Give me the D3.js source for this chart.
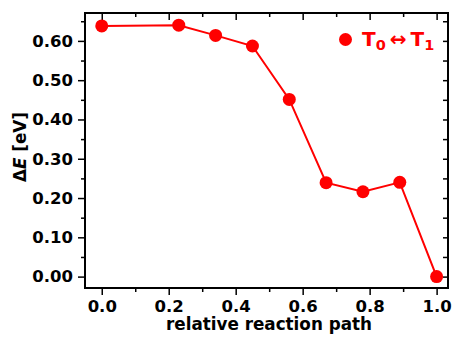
<!DOCTYPE html>
<html>
<head>
<meta charset="utf-8">
<script src="https://cdn.jsdelivr.net/npm/d3@7"></script>
<style>
  body { margin: 0; background: #fff; }
  text { font-family: "DejaVu Sans", sans-serif; font-weight: bold; }
  .axis path, .axis line { stroke: #000; }
</style>
</head>
<body>
<script>
// reaction path data
var pathX = [0.0, 0.23, 0.34, 0.45, 0.56, 0.67, 0.78, 0.89, 1.0];
var deltaE = [0.638, 0.640, 0.614, 0.587, 0.451, 0.239, 0.216, 0.240, 0.0];
var xTicks = [0.0, 0.2, 0.4, 0.6, 0.8, 1.0];
var xMinor = [0.1, 0.3, 0.5, 0.7, 0.9];
var yTicks = [0.0, 0.1, 0.2, 0.3, 0.4, 0.5, 0.6];
var yMinor = [0.05, 0.15, 0.25, 0.35, 0.45, 0.55, 0.65];
var yRight = [0.0, 0.05, 0.1, 0.15, 0.2, 0.25, 0.3, 0.35, 0.4, 0.45, 0.5, 0.55, 0.6, 0.65];

var w = 453, h = 338;
var mLeft = 85, mRight = 448, mTop = 13, mBottom = 288;
var color = "#ff0000";

var svg = d3.select("body").append("svg").attr("width", w).attr("height", h);

var xScale = d3.scaleLinear().domain([-0.05, 1.034]).range([mLeft, mRight]);
var yScale = d3.scaleLinear().domain([-0.029, 0.671]).range([mBottom, mTop]);

function noDomain(g) { g.select(".domain").remove(); }

//bottom axis
svg.append("g").attr("class", "axis")
  .attr("transform", "translate(0," + mBottom + ")")
  .call(d3.axisBottom(xScale).tickValues(xTicks).tickFormat(d3.format(".1f")).tickSize(7).tickPadding(5))
  .call(noDomain);
svg.append("g").attr("class", "axis")
  .attr("transform", "translate(0," + mBottom + ")")
  .call(d3.axisBottom(xScale).tickValues(xMinor).tickFormat("").tickSize(4))
  .call(noDomain);

//top axis, ticks inward
svg.append("g").attr("class", "axis")
  .attr("transform", "translate(0," + mTop + ")")
  .call(d3.axisTop(xScale).tickValues(xTicks).tickFormat("").tickSize(-7))
  .call(noDomain);
svg.append("g").attr("class", "axis")
  .attr("transform", "translate(0," + mTop + ")")
  .call(d3.axisTop(xScale).tickValues(xMinor).tickFormat("").tickSize(-4))
  .call(noDomain);

//left axis
svg.append("g").attr("class", "axis")
  .attr("transform", "translate(" + mLeft + ",0)")
  .call(d3.axisLeft(yScale).tickValues(yTicks).tickFormat(d3.format(".2f")).tickSize(7).tickPadding(5))
  .call(noDomain);
svg.append("g").attr("class", "axis")
  .attr("transform", "translate(" + mLeft + ",0)")
  .call(d3.axisLeft(yScale).tickValues(yMinor).tickFormat("").tickSize(4))
  .call(noDomain);

//right axis, ticks inward
svg.append("g").attr("class", "axis")
  .attr("transform", "translate(" + mRight + ",0)")
  .call(d3.axisRight(yScale).tickValues(yRight).tickFormat("").tickSize(-5))
  .call(noDomain);

svg.selectAll(".axis line").attr("stroke-width", 1.5);
svg.selectAll(".axis text").attr("fill", "#000").style("font-size", "16.5px");

//frame
svg.append("rect")
  .attr("x", mLeft).attr("y", mTop)
  .attr("width", mRight - mLeft).attr("height", mBottom - mTop)
  .attr("fill", "none").attr("stroke", "#000").attr("stroke-width", 2);

//data
var line = d3.line()
  .x(function(d, i) { return xScale(pathX[i]); })
  .y(function(d) { return yScale(d); });

svg.append("path")
  .datum(deltaE)
  .attr("d", line)
  .attr("fill", "none")
  .attr("stroke", color)
  .attr("stroke-width", 2);

svg.selectAll("circle.pt")
  .data(deltaE)
  .enter()
  .append("circle")
  .attr("class", "pt")
  .attr("cx", function(d, i) { return xScale(pathX[i]); })
  .attr("cy", function(d) { return yScale(d); })
  .attr("r", 6.5)
  .attr("fill", color);

//labels
svg.append("text")
  .attr("x", 269)
  .attr("y", 330)
  .attr("text-anchor", "middle")
  .style("font-size", "16.8px")
  .text("relative reaction path");

var yl = svg.append("text")
  .attr("transform", "translate(26,147) rotate(-90)")
  .attr("text-anchor", "middle")
  .style("font-size", "16.8px");
yl.append("tspan").text("Δ");
yl.append("tspan").style("font-style", "italic").text("E");
yl.append("tspan").text(" [eV]");

//legend
svg.append("circle")
  .attr("cx", 345.5).attr("cy", 39.5).attr("r", 6.5).attr("fill", color);
var lg = svg.append("text")
  .attr("x", 362).attr("y", 46)
  .attr("fill", color)
  .style("font-size", "20px");
lg.append("tspan").text("T");
lg.append("tspan").attr("dy", 3.5).style("font-size", "14.5px").text("0");
lg.append("tspan").attr("dy", -3.5).attr("dx", 4).text("\u2194");
lg.append("tspan").attr("dx", 4).text("T");
lg.append("tspan").attr("dy", 3.5).style("font-size", "14.5px").text("1");
</script>
</body>
</html>
